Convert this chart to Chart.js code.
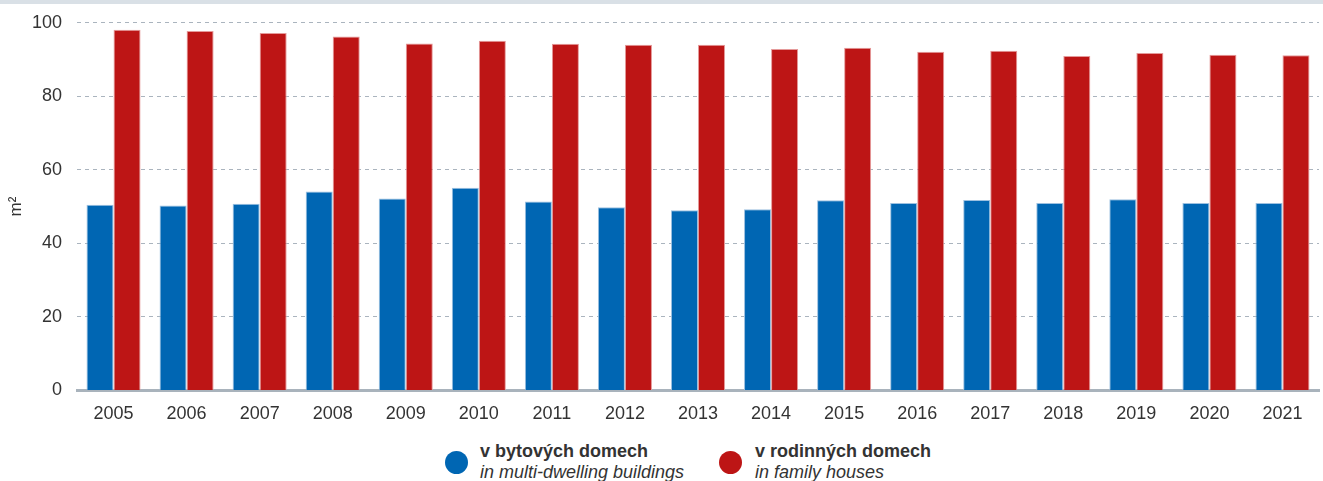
<!DOCTYPE html>
<html>
<head>
<meta charset="utf-8">
<script src="https://cdn.jsdelivr.net/npm/chart.js@4"></script>
<style>
  body { margin: 0; background: #fff; font-family: "Liberation Sans", Arial, sans-serif; overflow: hidden; }
  #topbar { position: absolute; left: 0; top: 0; width: 1323px; height: 4px; background: #d9e0e6; z-index: 2; }
  #wrap { position: absolute; left: 0; top: -3px; width: 1323px; height: 433px; }
  #legend { position: absolute; top: 441px; left: 0; width: 1323px; height: 40px; overflow: hidden; }
  .item { position: absolute; top: 0; color: #333; font-size: 18px; line-height: 21px; }
  .dot { position: absolute; width: 23px; height: 23px; border-radius: 50%; top: 10px; }
  .item b { display: block; }
  .item i { display: block; }
</style>
</head>
<body>
<div id="topbar"></div>
<div id="wrap"><canvas id="chart"></canvas></div>
<div id="legend">
  <div class="dot" style="left:445px;background:#0066b3"></div>
  <div class="item" style="left:480px"><b>v bytových domech</b><i>in multi-dwelling buildings</i></div>
  <div class="dot" style="left:719px;background:#bd1515"></div>
  <div class="item" style="left:755px"><b>v rodinných domech</b><i>in family houses</i></div>
</div>
<script>
const years = ["2005", "2006", "2007", "2008", "2009", "2010", "2011", "2012", "2013",
  "2014", "2015", "2016", "2017", "2018", "2019", "2020", "2021"];
const multiDwelling = [50.5, 50.3, 50.8, 54.1, 52.2, 55.1, 51.4, 49.8, 49.0,
  49.3, 51.7, 51.0, 51.8, 51.0, 52.0, 51.0, 51.0];
const familyHouses = [98.1, 97.8, 97.2, 96.3, 94.4, 95.1, 94.3, 94.0, 94.0,
  92.9, 93.2, 92.1, 92.4, 91.0, 91.8, 91.3, 91.2];
const yTicks = [0, 20, 40, 60, 80, 100];

const chart = new Chart(document.getElementById("chart").getContext("2d"), {
  type: "bar",
  data: {
    labels: years,
    datasets: [
      {
        label: "v bytových domech",
        data: multiDwelling,
        backgroundColor: "#0066b3",
        borderColor: "#9cc0e0",
        borderWidth: 1,
        barPercentage: 1,
        categoryPercentage: 0.74,
      },
      {
        label: "v rodinných domech",
        data: familyHouses,
        backgroundColor: "#bd1515",
        borderColor: "#e59a9a",
        borderWidth: 1,
        barPercentage: 1,
        categoryPercentage: 0.74,
      },
    ],
  },
  options: {
    responsive: true,
    maintainAspectRatio: false,
    animation: false,
    layout: { padding: { top: 10, right: 4, left: 0, bottom: 0 } },
    plugins: {
      legend: { display: false },
      tooltip: { enabled: false },
    },
    scales: {
      x: {
        grid: { display: false },
        border: { display: true, color: "#a9b3bc", width: 3 },
        ticks: {
          color: "#333",
          font: { family: "Liberation Sans", size: 18 },
          padding: 5,
          maxRotation: 0,
        },
      },
      y: {
        min: 0,
        max: 100,
        afterBuildTicks: (axis) => {
          axis.ticks = yTicks.map((v) => ({ value: v }));
        },
        afterFit: (axis) => {
          axis.width = 77;
        },
        grid: {
          color: (ctx) => (ctx.tick && ctx.tick.value === 0 ? "rgba(0,0,0,0)" : "#aab4be"),
          drawTicks: false,
          lineWidth: 1,
        },
        border: { display: false, dash: [4, 4] },
        ticks: {
          color: "#333",
          font: { family: "Liberation Sans", size: 18 },
          padding: 15,
        },
        title: {
          display: true,
          text: "m²",
          color: "#333",
          font: { family: "Liberation Sans", size: 17 },
          padding: { top: 6, bottom: 0 },
        },
      },
    },
  },
});
</script>
</body>
</html>
